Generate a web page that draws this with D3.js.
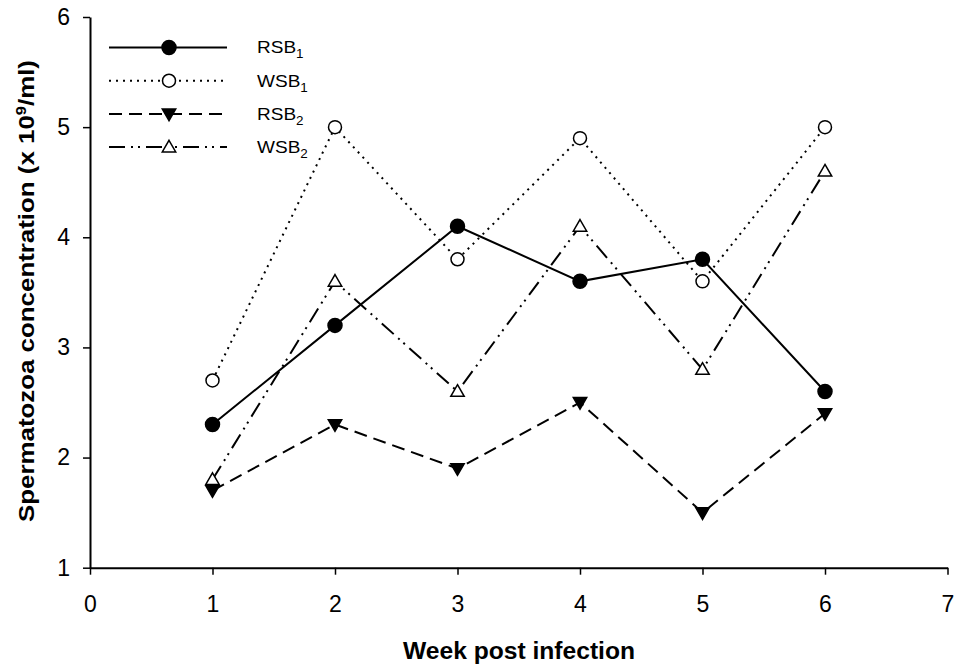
<!DOCTYPE html>
<html><head><meta charset="utf-8">
<script src="https://cdn.jsdelivr.net/npm/d3@7"></script>
<style>body{margin:0;background:#fff} svg{display:block} text{font-family:"Liberation Sans",Arial,sans-serif;fill:#000}</style>
</head><body><svg id="c" width="960" height="672"></svg>
<script>
const weeks = [1, 2, 3, 4, 5, 6];
const rsb1 = [2.3, 3.2, 4.1, 3.6, 3.8, 2.6];
const wsb1 = [2.7, 5.0, 3.8, 4.9, 3.6, 5.0];
const rsb2 = [1.7, 2.3, 1.9, 2.5, 1.5, 2.4];
const wsb2 = [1.8, 3.6, 2.6, 4.1, 2.8, 4.6];
const xTicks = [0, 1, 2, 3, 4, 5, 6, 7];
const yTicks = [1, 2, 3, 4, 5, 6];
const seriesBase = ["RSB", "WSB", "RSB", "WSB"];
const seriesSub = ["1", "1", "2", "2"];
const xTitle = "Week post infection";

const svg = d3.select("#c");
const x = d3.scaleLinear().domain([0, 7]).range([90, 947.5]);
const y = d3.scaleLinear().domain([1, 6]).range([567.7, 17]);

const styles = [
  {dash: null, marker: "circle", fill: "#000"},
  {dash: "2,5", marker: "circle", fill: "#fff"},
  {dash: "13,7", marker: "down", fill: "#000"},
  {dash: "16,6,2,5,2,6", marker: "up", fill: "#fff"}
];
const data = [rsb1, wsb1, rsb2, wsb2];

// axes
const gx = svg.append("g").attr("transform", `translate(0,${y(1)})`)
  .call(d3.axisBottom(x).tickValues(xTicks).tickSize(7).tickSizeOuter(0).tickPadding(21).tickFormat(d3.format("d")));
const gy = svg.append("g").attr("transform", `translate(${x(0)},0)`)
  .call(d3.axisLeft(y).tickValues(yTicks).tickSize(7).tickSizeOuter(0).tickPadding(13).tickFormat(d3.format("d")));
[gx, gy].forEach(g => {
  g.select(".domain").attr("stroke", "#000").attr("stroke-width", 2);
  g.selectAll(".tick line").attr("stroke", "#000").attr("stroke-width", 1.5);
  g.selectAll(".tick text").attr("font-size", 23).attr("font-family", "'Liberation Sans',Arial,sans-serif").attr("fill", "#000");
});

// titles
svg.append("text").attr("x", 519).attr("y", 659).attr("text-anchor", "middle")
  .attr("font-size", 23).attr("font-weight", "bold")
  .attr("textLength", 232).attr("lengthAdjust", "spacingAndGlyphs").text(xTitle);
const yt = svg.append("text").attr("transform", "translate(34,291) rotate(-90)").attr("text-anchor", "middle")
  .attr("font-size", 22).attr("font-weight", "bold")
  .attr("textLength", 462).attr("lengthAdjust", "spacingAndGlyphs");
yt.append("tspan").text("Spermatozoa concentration (x 10");
yt.append("tspan").attr("dy", -8).attr("font-size", 14).text("9");
yt.append("tspan").attr("dy", 8).text("/ml)");

function drawMarker(g, type, fill, cx, cy) {
  if (type === "circle") {
    g.append("circle").attr("cx", cx).attr("cy", cy).attr("r", fill === "#000" ? 7 : 6.5)
      .attr("fill", fill).attr("stroke", "#000").attr("stroke-width", 1.5);
  } else {
    g.append("path").attr("d", d3.symbol().type(d3.symbolTriangle).size(78)())
      .attr("transform", `translate(${cx},${cy + (type === "down" ? -1 : 1)}) rotate(${type === "down" ? 180 : 0})`)
      .attr("fill", fill).attr("stroke", "#000").attr("stroke-width", 1.5);
  }
}

const line = d3.line().x((d, i) => x(weeks[i])).y(d => y(d));
data.forEach((vals, k) => {
  svg.append("path").attr("d", line(vals)).attr("fill", "none").attr("stroke", "#000")
    .attr("stroke-width", 2).attr("stroke-dasharray", styles[k].dash);
});
data.forEach((vals, k) => {
  const g = svg.append("g");
  vals.forEach((v, i) => drawMarker(g, styles[k].marker, styles[k].fill, x(weeks[i]), y(v)));
});

// legend
seriesBase.forEach((name, k) => {
  const ly = 47.5 + k * 33.2;
  const g = svg.append("g");
  g.append("line").attr("x1", 109).attr("x2", 227).attr("y1", ly).attr("y2", ly)
    .attr("stroke", "#000").attr("stroke-width", 2).attr("stroke-dasharray", styles[k].dash);
  drawMarker(g, styles[k].marker, styles[k].fill, 169, ly);
  const t = g.append("text").attr("x", 257).attr("y", ly + 6).attr("font-size", 17)
    .attr("transform", `translate(257,0) scale(1.12,1) translate(-257,0)`);
  t.append("tspan").text(name);
  t.append("tspan").attr("dy", 5).attr("font-size", 12).text(seriesSub[k]);
});
</script></body></html>
